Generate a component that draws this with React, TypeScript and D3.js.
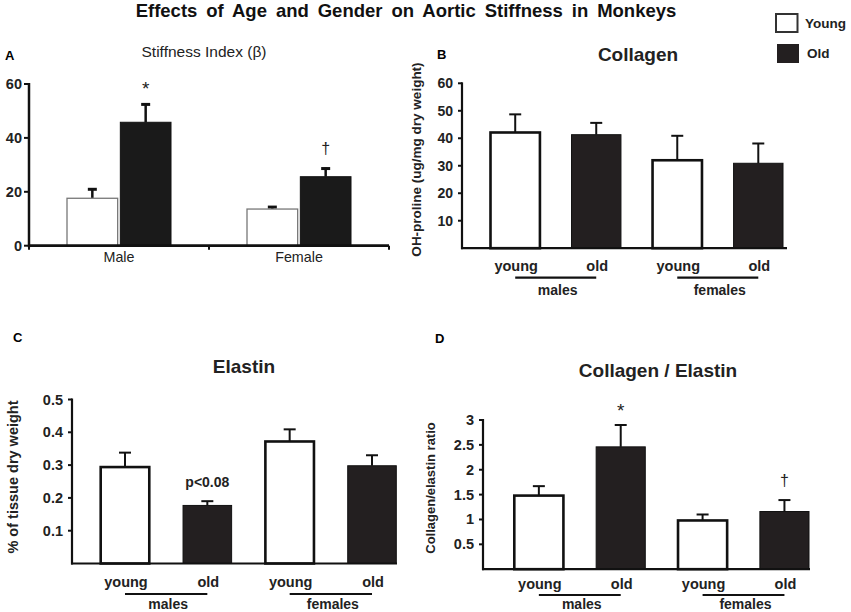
import * as d3 from 'd3';

const FONT = '"Liberation Sans", Arial, Helvetica, sans-serif';
const INK = '#111';
const DARK = '#231f20';

// ---- Panel A: stiffness index ----
const sexes = ['Male', 'Female'];
const ages = ['Young', 'Old'];
const stiffnessMean = [[17.6, 45.8], [13.6, 25.6]];
const stiffnessErr = [[3.7, 7.0], [1.1, 3.4]];
const stiffnessTicks = [0, 20, 40, 60];
const stiffnessMarks = [['', '*'], ['', '†']];

// ---- Panels B-D: four bars each ----
const barLabels = ['young', 'old', 'young', 'old'];
const groupLabels = ['males', 'females'];

const collagenMean = [42.1, 41.3, 32.0, 30.9];
const collagenErr = [6.6, 4.3, 8.9, 7.2];
const collagenTicks = [10, 20, 30, 40, 50, 60];
const collagenMarks = ['', '', '', ''];

const elastinMean = [0.294, 0.177, 0.372, 0.298];
const elastinErr = [0.044, 0.013, 0.037, 0.032];
const elastinTicks = [0.1, 0.2, 0.3, 0.4, 0.5];
const elastinMarks = ['', 'p<0.08', '', ''];

const ratioMean = [1.48, 2.46, 0.98, 1.16];
const ratioErr = [0.19, 0.44, 0.12, 0.23];
const ratioTicks = [0.5, 1, 1.5, 2, 2.5, 3];
const ratioMarks = ['', '*', '', '†'];

// baseline of an annotation sitting above an error bar
const markBase = (m: string, top: number) => (m === '*' ? top - 8 : top - 14);
const markSize = (m: string) => (m === '*' ? 19 : m === '†' ? 16 : 14);

function StiffnessPanel() {
  const y = d3.scaleLinear().domain([0, 60]).range([245.7, 84]);
  const gx = d3.scaleBand<string>().domain(sexes).range([29, 389]);
  const inner = d3.scaleBand<string>().domain(ages).range([-52, 52]).paddingInner(0.05);
  const bw = inner.bandwidth();
  const y0 = y(0);

  return (
    <g>
      <text x={5} y={59.5} fontSize={13} fontWeight="bold">A</text>
      <text x={204} y={57} fontSize={15.5} textAnchor="middle" fill="#222">Stiffness Index (β)</text>

      {sexes.map((s, si) =>
        ages.map((a, ai) => {
          const cx0 = gx(s)! + gx.bandwidth() / 2 + inner(a)!;
          const v = stiffnessMean[si][ai];
          const top = y(v + stiffnessErr[si][ai]);
          const cx = cx0 + bw / 2;
          const mark = stiffnessMarks[si][ai];
          return (
            <g key={s + a}>
              <line x1={cx} x2={cx} y1={y(v)} y2={top} stroke={INK} strokeWidth={2.5} />
              <line x1={cx - 4.5} x2={cx + 4.5} y1={top + 1} y2={top + 1} stroke={INK} strokeWidth={3} />
              <rect
                x={cx0}
                y={y(v)}
                width={bw}
                height={y0 - y(v)}
                fill={ai === 0 ? '#fff' : '#1a1a1a'}
                stroke={ai === 0 ? '#777' : '#111'}
                strokeWidth={ai === 0 ? 1.3 : 1}
              />
              {mark && (
                <text x={cx} y={markBase(mark, top)} fontSize={markSize(mark)} textAnchor="middle" fill="#222">{mark}</text>
              )}
            </g>
          );
        })
      )}

      {/* axes */}
      <line x1={29} x2={29} y1={y(60) - 1} y2={y0 + 1.5} stroke={INK} strokeWidth={2.5} />
      <line x1={28} x2={389} y1={y0} y2={y0} stroke={INK} strokeWidth={2.8} />
      {[gx.range()[0], gx(sexes[1])!, gx.range()[1]].map((t, i) => (
        <line key={i} x1={t} x2={t} y1={y0} y2={y0 + 4} stroke={INK} strokeWidth={2} />
      ))}
      {stiffnessTicks.map((t) => (
        <g key={t}>
          <line x1={24} x2={29} y1={y(t)} y2={y(t)} stroke={INK} strokeWidth={2} />
          <text x={22} y={y(t) + 5} fontSize={14.5} fontWeight="bold" textAnchor="end" fill="#222">{t}</text>
        </g>
      ))}
      {sexes.map((s) => (
        <text key={s} x={gx(s)! + gx.bandwidth() / 2} y={262} fontSize={14.3} textAnchor="middle" fill="#222">{s}</text>
      ))}
    </g>
  );
}

interface PanelProps {
  letter: string;
  letterPos: [number, number];
  title: string;
  titlePos: [number, number];
  yLabel: string;
  yLabelPos: [number, number];
  yLabelSize: number;
  means: number[];
  errs: number[];
  ticks: number[];
  marks: string[];
  yMax: number;
  yRange: [number, number];
  axisX: [number, number];
  barRange: [number, number];
  pad: number;
  labelY: number;
  lineY: number;
  groupY: number;
  tickSize: number;
}

function FourBarPanel(p: PanelProps) {
  const y = d3.scaleLinear().domain([0, p.yMax]).range(p.yRange);
  const x = d3.scaleBand<number>().domain(d3.range(p.means.length)).range(p.barRange).paddingInner(p.pad);
  const bw = x.bandwidth();
  const y0 = y(0);
  const [ax0, ax1] = p.axisX;
  const centre = (i: number) => x(i)! + bw / 2;

  return (
    <g>
      <text x={p.letterPos[0]} y={p.letterPos[1]} fontSize={13} fontWeight="bold">{p.letter}</text>
      <text x={p.titlePos[0]} y={p.titlePos[1]} fontSize={19} fontWeight="bold" textAnchor="middle" fill="#222">{p.title}</text>
      <text
        transform={`translate(${p.yLabelPos[0]},${p.yLabelPos[1]}) rotate(-90)`}
        fontSize={p.yLabelSize}
        fontWeight="bold"
        textAnchor="middle"
        fill="#222"
      >
        {p.yLabel}
      </text>

      {p.means.map((v, i) => {
        const top = y(v + p.errs[i]);
        const cx = centre(i);
        const mark = p.marks[i];
        return (
          <g key={i}>
            <line x1={cx} x2={cx} y1={y(v)} y2={top} stroke={INK} strokeWidth={2} />
            <line x1={cx - 6} x2={cx + 6} y1={top} y2={top} stroke={INK} strokeWidth={2} />
            <rect
              x={x(i)}
              y={y(v)}
              width={bw}
              height={y0 - y(v)}
              fill={i % 2 === 0 ? '#fff' : DARK}
              stroke={INK}
              strokeWidth={i % 2 === 0 ? 2.6 : 1}
            />
            {mark && (
              <text
                x={cx}
                y={markBase(mark, top)}
                fontSize={markSize(mark)}
                fontWeight={mark === 'p<0.08' ? 'bold' : 'normal'}
                textAnchor="middle"
                fill="#222"
              >
                {mark}
              </text>
            )}
          </g>
        );
      })}

      {/* axes */}
      <line x1={ax0} x2={ax0} y1={y(p.yMax) - 1} y2={y0 + 1} stroke={INK} strokeWidth={2.2} />
      <line x1={ax0 - 1} x2={ax1} y1={y0} y2={y0} stroke={INK} strokeWidth={2.2} />
      {p.ticks.map((t) => (
        <g key={t}>
          <line x1={ax0 - 4} x2={ax0} y1={y(t)} y2={y(t)} stroke={INK} strokeWidth={2} />
          <text x={ax0 - 9} y={y(t) + 5} fontSize={p.tickSize} fontWeight="bold" textAnchor="end" fill="#222">{t}</text>
        </g>
      ))}

      {barLabels.map((l, i) => (
        <text key={i} x={centre(i) + 1} y={p.labelY} fontSize={14.5} fontWeight="bold" textAnchor="middle" fill="#222">{l}</text>
      ))}
      {groupLabels.map((g, gi) => {
        const a = centre(gi * 2);
        const b = centre(gi * 2 + 1);
        return (
          <g key={g}>
            <line x1={a} x2={b} y1={p.lineY} y2={p.lineY} stroke={INK} strokeWidth={2.2} />
            <text x={(a + b) / 2 + 2} y={p.groupY} fontSize={14} fontWeight="bold" textAnchor="middle" fill="#222">{g}</text>
          </g>
        );
      })}
    </g>
  );
}

export default function App() {
  return (
    <svg
      width={851}
      height={612}
      style={{ position: 'absolute', left: 0, top: 0, background: '#fff' }}
      fontFamily={FONT}
    >
      <text x={406} y={17} fontSize={18.5} fontWeight="bold" textAnchor="middle" wordSpacing={3.8} fill="#111">
        Effects of Age and Gender on Aortic Stiffness in Monkeys
      </text>

      {/* legend */}
      <rect x={776} y={14} width={21.5} height={18} fill="#fff" stroke="#333" strokeWidth={2} />
      <text x={805} y={27.5} fontSize={13.5} fontWeight="bold" fill="#222">Young</text>
      <rect x={777} y={44} width={22} height={19} fill={DARK} />
      <text x={807} y={58} fontSize={13.5} fontWeight="bold" fill="#222">Old</text>

      <StiffnessPanel />

      <FourBarPanel
        letter="B"
        letterPos={[437, 59]}
        title="Collagen"
        titlePos={[638, 61]}
        yLabel="OH-proline (ug/mg dry weight)"
        yLabelPos={[421, 159.5]}
        yLabelSize={13.5}
        means={collagenMean}
        errs={collagenErr}
        ticks={collagenTicks}
        marks={collagenMarks}
        yMax={60}
        yRange={[248.2, 83.3]}
        axisX={[462, 787]}
        barRange={[490.5, 783]}
        pad={0.39}
        labelY={271}
        lineY={277.7}
        groupY={295}
        tickSize={14}
      />

      <FourBarPanel
        letter="C"
        letterPos={[13, 342]}
        title="Elastin"
        titlePos={[244, 373]}
        yLabel="% of tissue dry weight"
        yLabelPos={[18, 477]}
        yLabelSize={14.5}
        means={elastinMean}
        errs={elastinErr}
        ticks={elastinTicks}
        marks={elastinMarks}
        yMax={0.5}
        yRange={[563.5, 399.5]}
        axisX={[72, 397]}
        barRange={[100.7, 396.3]}
        pad={0.41}
        labelY={587}
        lineY={594}
        groupY={608.5}
        tickSize={14.5}
      />

      <FourBarPanel
        letter="D"
        letterPos={[435, 343]}
        title="Collagen / Elastin"
        titlePos={[658, 377]}
        yLabel="Collagen/elastin ratio"
        yLabelPos={[435, 488]}
        yLabelSize={13}
        means={ratioMean}
        errs={ratioErr}
        ticks={ratioTicks}
        marks={ratioMarks}
        yMax={3}
        yRange={[569.2, 420]}
        axisX={[483, 810]}
        barRange={[514.3, 809]}
        pad={0.4}
        labelY={589}
        lineY={595}
        groupY={609}
        tickSize={14.5}
      />
    </svg>
  );
}
